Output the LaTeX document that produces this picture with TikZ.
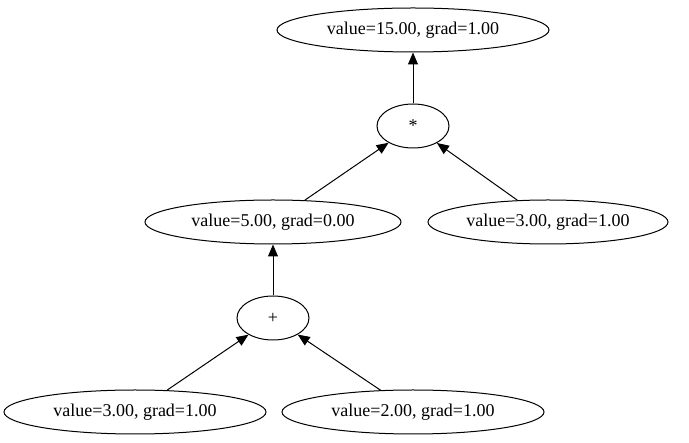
\documentclass[tikz,border=0pt]{standalone}
\usepackage{fontspec}
\setmainfont{Liberation Serif}
\usetikzlibrary{shapes.geometric,arrows.meta}
\begin{document}
\begin{tikzpicture}[x=1pt,y=-1pt,
  gnode/.style={draw,ellipse,inner sep=0pt,font=\fontsize{18pt}{20pt}\selectfont,line width=1pt},
  edge/.style={draw,line width=1pt,-{Triangle[length=12pt,width=10pt]}}]
\useasboundingbox (0,0) rectangle (689,443);
\node[gnode,minimum width=272pt,minimum height=44pt] (top) at (413,30) {value=15.00, grad=1.00};
\node[gnode,minimum width=72pt,minimum height=44pt] (mul) at (413,126) {*};
\node[gnode,minimum width=256pt,minimum height=44pt] (a) at (273,222) {value=5.00, grad=0.00};
\node[gnode,minimum width=240pt,minimum height=44pt] (b) at (548,222) {value=3.00, grad=1.00};
\node[gnode,minimum width=72pt,minimum height=44pt] (add) at (273,318) {+};
\node[gnode,minimum width=262pt,minimum height=44pt] (c) at (135,412) {value=3.00, grad=1.00};
\node[gnode,minimum width=262pt,minimum height=44pt] (d) at (413,412) {value=2.00, grad=1.00};
\draw[edge] (mul) -- (top);
\draw[edge] (a) -- (mul);
\draw[edge] (b) -- (mul);
\draw[edge] (add) -- (a);
\draw[edge] (c) -- (add);
\draw[edge] (d) -- (add);
\end{tikzpicture}
\end{document}
